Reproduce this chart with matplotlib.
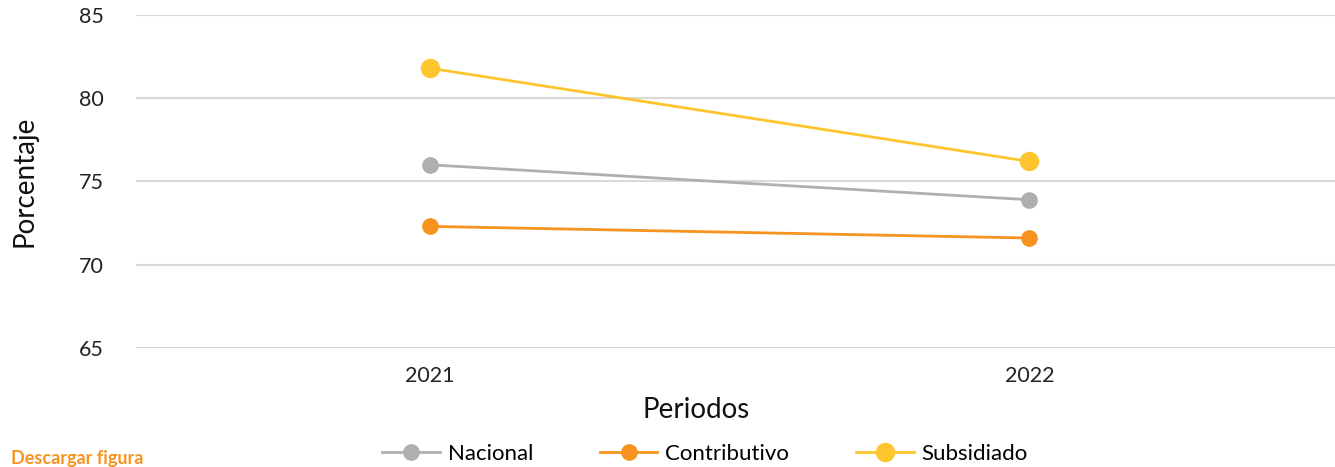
import matplotlib.pyplot as plt

plt.rcParams['font.family'] = ['Lato', 'DejaVu Sans']

# Porcentaje por régimen y periodo
periodos = ["2021", "2022"]
nacional = [76.0, 73.9]
contributivo = [72.3, 71.6]
subsidiado = [81.8, 76.2]

series = [
    ("Nacional", nacional, "#AFAFAF", 11),
    ("Contributivo", contributivo, "#F7931E", 11),
    ("Subsidiado", subsidiado, "#FEC52E", 13),
]

fig = plt.figure(figsize=(13.35, 4.67), dpi=100)
ax = fig.add_axes([0.102, 0.255, 0.898, 0.713])

x = range(len(periodos))
for name, vals, color, ms in series:
    ax.plot(x, vals, color=color, lw=2, marker='o', ms=ms, label=name)

ax.set_xlim(-0.49, 1.51)
ax.set_ylim(65, 85)
ax.set_yticks([65, 70, 75, 80, 85])
ax.set_xticks(list(x))
ax.set_xticklabels(periodos)
ax.tick_params(length=0, labelsize=15.5, colors='#222222')
ax.tick_params(axis='x', pad=13)
ax.tick_params(axis='y', pad=23)
ax.grid(axis='y', color='#D9D9D9', lw=1.5)
ax.set_axisbelow(True)
for s in ax.spines.values():
    s.set_visible(False)

ax.set_xlabel("Periodos", fontsize=20, color='#111111')
ax.xaxis.set_label_coords(0.467, -0.148)
ax.set_ylabel("Porcentaje", fontsize=20, color='#111111', labelpad=30)

fig.legend(loc='center', bbox_to_anchor=(0.528, 0.028), ncol=3, frameon=False,
           fontsize=16, handlelength=2.6, columnspacing=3.0, handletextpad=0.36,
           borderpad=0)

fig.text(0.008, 0.0, "Descargar figura", color='#F7931E', fontsize=13,
         fontweight='bold', va='bottom')

fig.savefig("out.png", dpi=100)
